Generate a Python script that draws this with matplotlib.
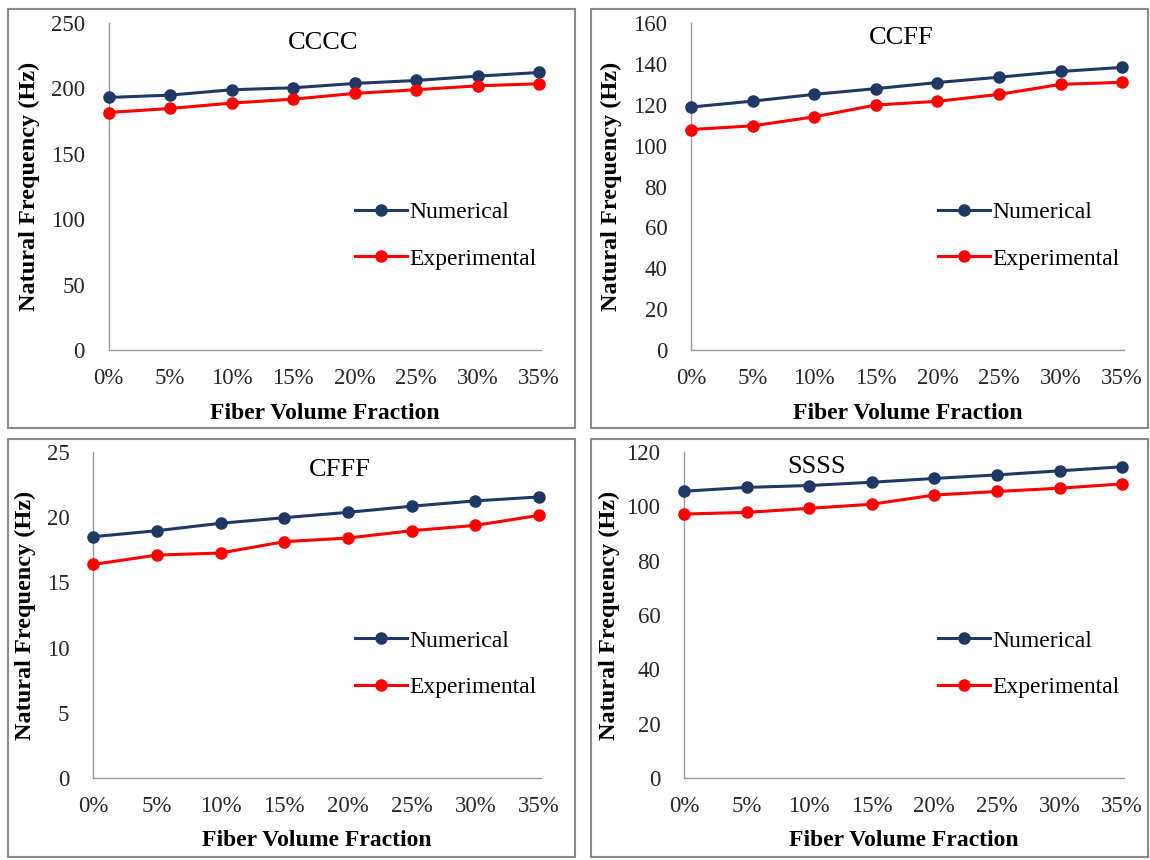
import matplotlib
matplotlib.use("Agg")
import matplotlib.pyplot as plt
from matplotlib.patches import Rectangle

fractions = ["0%", "5%", "10%", "15%", "20%", "25%", "30%", "35%"]
series_names = ["Numerical", "Experimental"]

cccc_num = [193.1, 194.9, 199.0, 200.5, 203.8, 206.1, 209.4, 212.2]
cccc_exp = [181.6, 184.7, 188.8, 191.8, 196.2, 199.0, 202.0, 203.6]

ccff_num = [118.9, 121.8, 125.1, 127.9, 130.9, 133.5, 136.3, 138.3]
ccff_exp = [107.9, 109.7, 114.1, 119.9, 121.7, 125.1, 130.0, 131.0]

cfff_num = [18.51, 18.97, 19.54, 19.97, 20.38, 20.85, 21.26, 21.56]
cfff_exp = [16.38, 17.10, 17.26, 18.13, 18.41, 18.97, 19.38, 20.15]

ssss_num = [105.6, 107.0, 107.7, 108.9, 110.3, 111.6, 113.1, 114.6]
ssss_exp = [97.2, 97.8, 99.3, 100.8, 104.2, 105.5, 106.7, 108.3]

plt.rcParams['font.family'] = ['Liberation Serif', 'DejaVu Serif']

NAVY = '#1f3864'
RED = '#ff0000'
GRIS = '#9a9a9a'

fig = plt.figure(figsize=(11.5, 8.6), dpi=100)

# paneelranden (pixels: x0, y0, x1, y1 vanaf linksboven)
for x0, y0, x1, y1 in [(8, 9, 575, 428), (591, 9, 1148, 428),
                       (8, 439, 575, 857), (591, 439, 1148, 857)]:
    fig.add_artist(Rectangle((x0 / 1150, 1 - y1 / 860), (x1 - x0) / 1150, (y1 - y0) / 860,
                             transform=fig.transFigure, fill=False, edgecolor='#8a8a8a', lw=1.5))

panels = [
    # rect, titel, data, ymax, stap, titelpos, legend x, ylabel x
    ([0.0944, 0.5930, 0.3760, 0.3802], "CCCC", cccc_num, cccc_exp, 250, 50, (0.496, 0.94), 0.57, -0.182),
    ([0.6009, 0.5930, 0.3765, 0.3802], "CCFF", ccff_num, ccff_exp, 160, 20, (0.486, 0.954), 0.57, -0.185),
    ([0.0809, 0.0953, 0.3896, 0.3790], "CFFF", cfff_num, cfff_exp, 25, 5, (0.551, 0.945), 0.585, -0.15),
    ([0.5948, 0.0953, 0.3826, 0.3790], "SSSS", ssss_num, ssss_exp, 120, 20, (0.30, 0.954), 0.577, -0.17),
]

x = list(range(len(fractions)))

for rect, titel, num, exp, ymax, stap, tpos, lx, ylx in panels:
    ax = fig.add_axes(rect)
    ax.plot(x, num, color=NAVY, lw=2.2, marker='o', markersize=8, label=series_names[0], clip_on=False, zorder=3)
    ax.plot(x, exp, color=RED, lw=2.2, marker='o', markersize=8, label=series_names[1], clip_on=False, zorder=3)

    ax.set_xlim(0, 7.03)
    ax.set_ylim(0, ymax)
    ax.set_xticks(x)
    ax.set_xticklabels(fractions)
    ax.set_yticks(range(0, ymax + 1, stap))

    for s in ['top', 'right']:
        ax.spines[s].set_visible(False)
    for s in ['left', 'bottom']:
        ax.spines[s].set_color(GRIS)
        ax.spines[s].set_linewidth(1)
    ax.tick_params(axis='both', length=0, labelsize=16.5, colors='#262626')
    ax.tick_params(axis='y', pad=17)
    ax.tick_params(axis='x', pad=13)

    ax.set_xlabel("Fiber Volume Fraction", fontsize=17, fontweight='bold')
    ax.xaxis.set_label_coords(0.5, -0.193)
    ax.xaxis.label.set_va('center')
    ax.set_ylabel("Natural Frequency (Hz)", fontsize=17.5, fontweight='bold')
    ax.yaxis.set_label_coords(ylx, 0.5)
    ax.yaxis.label.set_va('center')

    ax.text(tpos[0], tpos[1], titel, transform=ax.transAxes, ha='center', va='center', fontsize=19)

    ax.legend(loc='center left', bbox_to_anchor=(lx, 0.35), frameon=False, fontsize=17,
              handlelength=2.2, handletextpad=0.1, labelspacing=1.05, borderpad=0, borderaxespad=0)

fig.savefig('out.png', dpi=100)
